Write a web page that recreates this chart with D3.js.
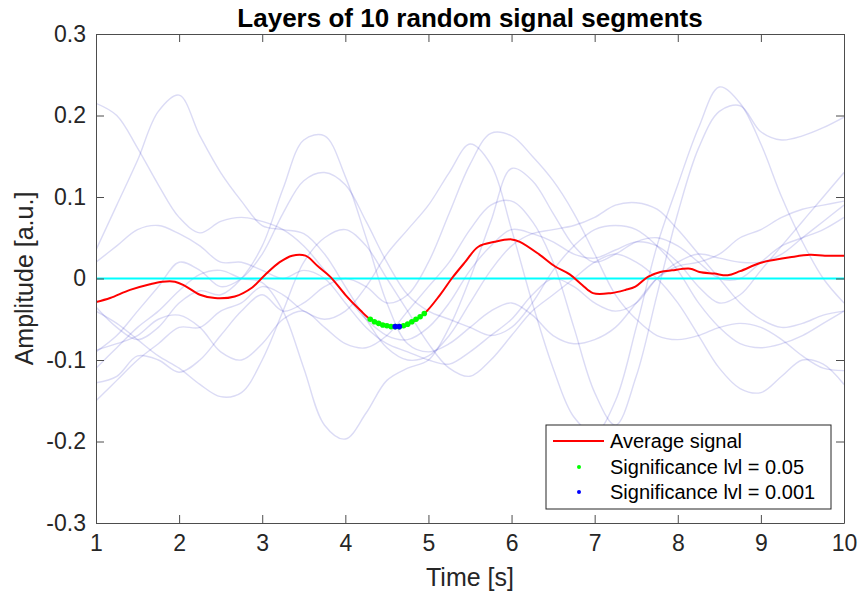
<!DOCTYPE html>
<html lang="en">
<head>
    <meta charset="UTF-8">
    <title>Layers of 10 random signal segments</title>
    <script src="https://d3js.org/d3.v7.min.js"></script>
    <style>
        body {
            margin: 0;
            background: #fff;
            font-family: "Liberation Sans", Arial, Helvetica, sans-serif;
        }
        svg {
            display: block;
        }
        .axis path, .axis line {
            stroke: #4d4d4d;
        }
        .axis text {
            fill: #262626;
            font-size: 23px;
            font-family: "Liberation Sans", Arial, sans-serif;
        }
    </style>
</head>
<body>
    <div id="container"></div>

    <script>
        // sample times of the 10 layered segments (s)
        const times = [1, 1.25, 1.5, 1.75, 2, 2.25, 2.5, 2.75, 3, 3.25, 3.5, 3.75, 4, 4.25, 4.5, 4.75,
            5, 5.25, 5.5, 5.75, 6, 6.25, 6.5, 6.75, 7, 7.25, 7.5, 7.75, 8, 8.25, 8.5, 8.75,
            9, 9.25, 9.5, 9.75, 10];

        // the 10 segments
        const seg1 = [0.215, 0.20, 0.16, 0.115, 0.075, 0.056, 0.07, 0.075, 0.07, 0.06, 0.04, 0.01, -0.02, -0.05, -0.07, -0.075,
            -0.06, -0.03, 0.01, 0.04, 0.06, 0.055, 0.045, 0.03, 0.025, 0.035, 0.045, 0.04, 0.02, -0.01, -0.03, -0.02,
            0.01, 0.04, 0.07, 0.10, 0.13];
        const seg2 = [0.035, 0.09, 0.145, 0.205, 0.225, 0.175, 0.13, 0.095, 0.065, 0.06, 0.055, 0.03, -0.01, -0.05, -0.085, -0.10,
            -0.095, -0.07, -0.03, 0.01, 0.04, 0.055, 0.06, 0.065, 0.075, 0.09, 0.093, 0.085, 0.06, 0.03, 0.0, -0.03,
            -0.05, -0.06, -0.055, -0.045, -0.04];
        const seg3 = [-0.035, -0.06, -0.075, -0.06, -0.03, -0.015, -0.02, 0.0, 0.04, 0.11, 0.17, 0.175, 0.125, 0.05, -0.03, -0.08,
            -0.09, -0.08, -0.06, -0.04, -0.03, -0.045, -0.07, -0.08, -0.075, -0.06, -0.03, 0.0, 0.015, 0.02, 0.03, 0.05,
            0.06, 0.075, 0.085, 0.09, 0.095];
        const seg4 = [-0.09, -0.07, -0.04, -0.01, 0.02, 0.01, -0.01, 0.0, 0.03, 0.08, 0.12, 0.13, 0.115, 0.07, 0.02, -0.02,
            -0.04, -0.05, -0.06, -0.07, -0.06, -0.03, 0.01, 0.04, 0.06, 0.065, 0.06, 0.04, 0.01, -0.03, -0.06, -0.08,
            -0.085, -0.08, -0.07, -0.055, -0.04];
        const seg5 = [-0.11, -0.085, -0.06, -0.04, -0.015, 0.005, 0.01, 0.0, -0.005, -0.04, -0.11, -0.18, -0.197, -0.165, -0.125, -0.11,
            -0.10, -0.06, 0.0, 0.07, 0.135, 0.12, 0.08, 0.04, 0.02, 0.03, 0.045, 0.05, 0.04, 0.02, 0.0, 0.0,
            0.02, 0.04, 0.05, 0.06, 0.075];
        const seg6 = [-0.128, -0.12, -0.095, -0.10, -0.115, -0.10, -0.07, -0.04, -0.02, -0.04, -0.03, -0.01, 0.0, -0.01, -0.03, -0.02,
            0.02, 0.08, 0.14, 0.178, 0.175, 0.15, 0.12, 0.08, 0.03, -0.02, -0.05, -0.07, -0.075, -0.07, -0.06, -0.055,
            -0.06, -0.075, -0.095, -0.11, -0.113];
        const seg7 = [-0.15, -0.125, -0.10, -0.08, -0.06, -0.06, -0.04, -0.03, -0.01, -0.02, -0.04, -0.05, -0.04, -0.01, 0.03, 0.06,
            0.09, 0.13, 0.165, 0.14, 0.06, -0.03, -0.11, -0.17, -0.19, -0.15, -0.06, 0.04, 0.115, 0.185, 0.235, 0.215,
            0.165, 0.10, 0.045, 0.0, -0.03];
        const seg8 = [-0.088, -0.08, -0.07, -0.05, -0.045, -0.06, -0.09, -0.10, -0.08, -0.05, -0.04, -0.06, -0.08, -0.085, -0.07, -0.04,
            -0.01, 0.02, 0.06, 0.09, 0.095, 0.07, 0.02, -0.06, -0.14, -0.18, -0.12, -0.02, 0.08, 0.16, 0.205, 0.212,
            0.18, 0.17, 0.175, 0.185, 0.198];
        const seg9 = [-0.04, -0.055, -0.075, -0.095, -0.11, -0.13, -0.145, -0.14, -0.10, -0.04, 0.02, 0.05, 0.06, 0.04, 0.0, -0.04,
            -0.08, -0.11, -0.12, -0.10, -0.07, -0.04, -0.02, 0.0, 0.02, 0.03, 0.02, 0.0, -0.03, -0.07, -0.11, -0.135,
            -0.14, -0.12, -0.10, -0.105, -0.13];
        const seg10 = [0.02, 0.04, 0.06, 0.065, 0.055, 0.04, 0.02, 0.02, 0.01, 0.0, 0.01, 0.0, -0.03, -0.06, -0.08, -0.09,
            -0.10, -0.105, -0.09, -0.07, -0.05, -0.02, 0.0, -0.01, -0.03, -0.04, -0.03, 0.0, 0.02, 0.03, 0.025, 0.02,
            0.02, 0.03, 0.05, 0.07, 0.09];
        const segments = [seg1, seg2, seg3, seg4, seg5, seg6, seg7, seg8, seg9, seg10];

        // average signal
        const avgTimes = [1, 1.17, 1.41, 1.65, 1.8, 1.95, 2.07, 2.25, 2.43, 2.67, 2.88, 3.03, 3.21, 3.36, 3.52,
            3.67, 3.82, 4.0, 4.18, 4.3, 4.45, 4.6, 4.75, 4.95, 5.14, 5.28, 5.44, 5.6, 5.8, 6.0,
            6.1, 6.34, 6.52, 6.7, 6.85, 6.98, 7.19, 7.37, 7.49, 7.64, 7.79, 7.93, 8.15, 8.26, 8.44,
            8.6, 8.75, 8.99, 9.17, 9.35, 9.59, 9.77, 10];
        const avgValues = [-0.029, -0.024, -0.014, -0.007, -0.004, -0.004, -0.009, -0.02, -0.024, -0.022, -0.011, 0.004, 0.020, 0.028, 0.028,
            0.015, 0.002, -0.020, -0.039, -0.050, -0.056, -0.059, -0.056, -0.043, -0.02, 0.0, 0.02, 0.039, 0.045, 0.048,
            0.045, 0.029, 0.015, 0.005, -0.008, -0.018, -0.018, -0.014, -0.010, 0.002, 0.008, 0.010, 0.012, 0.008, 0.006,
            0.004, 0.009, 0.019, 0.023, 0.026, 0.029, 0.028, 0.028];

        // significant samples
        const sig05Times = [4.30, 4.35, 4.40, 4.45, 4.50, 4.55, 4.60, 4.65, 4.70, 4.75, 4.80, 4.85, 4.90, 4.95];
        const sig05Values = [-0.050, -0.053, -0.055, -0.057, -0.058, -0.059, -0.059, -0.059, -0.058, -0.056, -0.053, -0.050, -0.047, -0.043];
        const sig001Times = [4.60, 4.65];
        const sig001Values = [-0.059, -0.059];

        const xTicks = [1, 2, 3, 4, 5, 6, 7, 8, 9, 10];
        const yTicks = [-0.3, -0.2, -0.1, 0, 0.1, 0.2, 0.3];
        const yTickLabels = ['-0.3', '-0.2', '-0.1', '0', '0.1', '0.2', '0.3'];
        const legendLabels = ['Average signal', 'Significance lvl = 0.05', 'Significance lvl = 0.001'];

        const width = 863, height = 595;
        const plotLeft = 96, plotRight = 844, plotTop = 34, plotBottom = 523;

        const svg = d3.select('#container').append('svg')
            .attr('width', width)
            .attr('height', height);

        const x = d3.scaleLinear().domain([1, 10]).range([plotLeft, plotRight]);
        const y = d3.scaleLinear().domain([-0.3, 0.3]).range([plotBottom, plotTop]);

        svg.append('clipPath').attr('id', 'plotclip')
            .append('rect')
            .attr('x', plotLeft).attr('y', plotTop)
            .attr('width', plotRight - plotLeft).attr('height', plotBottom - plotTop);

        const plot = svg.append('g').attr('clip-path', 'url(#plotclip)');

        const smooth = d3.line()
            .x(d => x(d[0]))
            .y(d => y(d[1]))
            .curve(d3.curveCatmullRom.alpha(0.5));

        // faint layers
        plot.selectAll('.seg')
            .data(segments)
            .enter()
            .append('path')
            .attr('class', 'seg')
            .attr('d', s => smooth(s.map((v, i) => [times[i], v])))
            .attr('fill', 'none')
            .attr('stroke', 'rgb(30,30,190)')
            .attr('stroke-opacity', 0.16)
            .attr('stroke-width', 1.4);

        // zero line
        plot.append('line')
            .attr('x1', x(1)).attr('x2', x(10))
            .attr('y1', y(0)).attr('y2', y(0))
            .attr('stroke', '#00ffff')
            .attr('stroke-width', 2);

        // average
        plot.append('path')
            .attr('d', smooth(avgTimes.map((t, i) => [t, avgValues[i]])))
            .attr('fill', 'none')
            .attr('stroke', '#ff0000')
            .attr('stroke-width', 2);

        plot.selectAll('.sig05')
            .data(sig05Times)
            .enter()
            .append('circle')
            .attr('class', 'sig05')
            .attr('cx', d => x(d))
            .attr('cy', (d, i) => y(sig05Values[i]))
            .attr('r', 2.8)
            .attr('fill', '#00ff00');

        plot.selectAll('.sig001')
            .data(sig001Times)
            .enter()
            .append('circle')
            .attr('class', 'sig001')
            .attr('cx', d => x(d))
            .attr('cy', (d, i) => y(sig001Values[i]))
            .attr('r', 2.8)
            .attr('fill', '#0000ff');

        // axes (ticks inside, mirrored on top/right)
        svg.append('g')
            .attr('class', 'axis')
            .attr('transform', `translate(0,${plotBottom})`)
            .call(d3.axisBottom(x).tickValues(xTicks).tickFormat(d => d)
                .tickSizeInner(-8).tickSizeOuter(0).tickPadding(12));

        svg.append('g')
            .attr('class', 'axis')
            .attr('transform', `translate(${plotLeft},0)`)
            .call(d3.axisLeft(y).tickValues(yTicks).tickFormat((d, i) => yTickLabels[i])
                .tickSizeInner(-8).tickSizeOuter(0).tickPadding(10));

        svg.append('g')
            .attr('class', 'axis')
            .attr('transform', `translate(0,${plotTop})`)
            .call(d3.axisTop(x).tickValues(xTicks).tickFormat('')
                .tickSizeInner(-8).tickSizeOuter(0));

        svg.append('g')
            .attr('class', 'axis')
            .attr('transform', `translate(${plotRight},0)`)
            .call(d3.axisRight(y).tickValues(yTicks).tickFormat('')
                .tickSizeInner(-8).tickSizeOuter(0));

        // titles
        svg.append('text')
            .attr('x', (plotLeft + plotRight) / 2)
            .attr('y', 27)
            .attr('text-anchor', 'middle')
            .attr('font-size', 26)
            .attr('font-weight', 'bold')
            .attr('fill', '#000')
            .text('Layers of 10 random signal segments');

        svg.append('text')
            .attr('x', (plotLeft + plotRight) / 2)
            .attr('y', 586)
            .attr('text-anchor', 'middle')
            .attr('font-size', 25)
            .attr('fill', '#262626')
            .text('Time [s]');

        svg.append('text')
            .attr('transform', `translate(33,${(plotTop + plotBottom) / 2}) rotate(-90)`)
            .attr('text-anchor', 'middle')
            .attr('font-size', 25)
            .attr('fill', '#262626')
            .text('Amplitude [a.u.]');

        // legend
        const legend = svg.append('g').attr('transform', 'translate(546,425)');
        legend.append('rect')
            .attr('width', 285).attr('height', 84)
            .attr('fill', '#fff')
            .attr('stroke', '#262626')
            .attr('stroke-width', 1);

        legend.append('line')
            .attr('x1', 7).attr('x2', 58)
            .attr('y1', 16).attr('y2', 16)
            .attr('stroke', '#ff0000')
            .attr('stroke-width', 2);
        legend.append('circle').attr('cx', 33).attr('cy', 42).attr('r', 2).attr('fill', '#00ff00');
        legend.append('circle').attr('cx', 33).attr('cy', 67).attr('r', 2).attr('fill', '#0000ff');

        legend.selectAll('.leg-text')
            .data(legendLabels)
            .enter()
            .append('text')
            .attr('class', 'leg-text')
            .attr('x', 64)
            .attr('y', (d, i) => 23 + i * 25.5)
            .attr('font-size', 20)
            .attr('fill', '#000')
            .text(d => d);
    </script>
</body>
</html>
